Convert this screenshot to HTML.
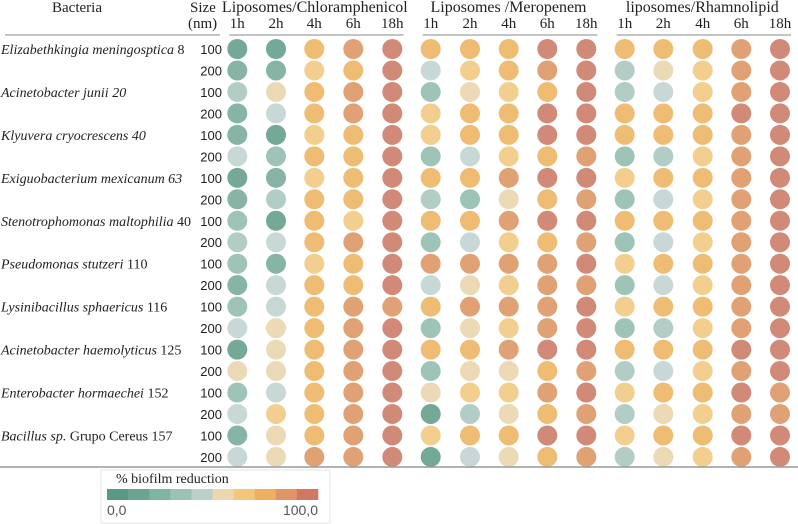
<!DOCTYPE html>
<html><head><meta charset="utf-8"><style>
body{margin:0;background:#fff;}
svg{display:block;font-family:"Liberation Serif",serif;}
</style></head><body>
<svg id="chart" width="798" height="524" viewBox="0 0 798 524" xmlns="http://www.w3.org/2000/svg">
<g id="hdr"></g><g id="cells"></g><g id="legend"></g>
</svg>
<script>
const bacteria = [["Elizabethkingia meningosptica"," 8"],["Acinetobacter junii 20",""],["Klyuvera cryocrescens 40",""],["Exiguobacterium mexicanum 63",""],["Stenotrophomonas maltophilia"," 40"],["Pseudomonas stutzeri"," 110"],["Lysinibacillus sphaericus"," 116"],["Acinetobacter haemolyticus"," 125"],["Enterobacter hormaechei"," 152"],["Bacillus sp."," Grupo Cereus 157"]];
const sizes = ["100","200"];
const groups = ["Liposomes/Chloramphenicol","Liposomes /Meropenem","liposomes/Rhamnolipid"];
const hours = ["1h","2h","4h","6h","18h"];
const G1=8,G2=18,G3=28,G4=35,G5=45,B=55,Y=65,O=75,D=85,R=95;
const chloramphenicol = [[G1,G1,O,D,R],[G2,G2,Y,O,R],[G4,B,O,D,R],[G2,G5,O,D,R],[G2,G1,Y,O,R],[G5,G3,O,O,R],[G1,G2,Y,O,R],[G2,G4,O,O,R],[G3,G1,O,Y,R],[G4,G5,O,D,R],[G3,G2,Y,O,R],[G2,G5,O,O,R],[G3,G5,O,D,D],[G5,B,O,D,R],[G1,B,O,D,R],[B,B,O,D,R],[G3,G5,O,D,R],[G5,Y,O,D,R],[G2,B,O,D,R],[G5,B,D,D,R]];
const meropenem = [[O,O,O,R,R],[G5,Y,O,D,R],[G3,B,Y,O,R],[Y,O,O,R,R],[Y,O,O,R,R],[G3,G5,Y,O,D],[O,O,D,R,R],[G4,G3,B,O,D],[O,O,D,R,R],[G3,G5,Y,O,D],[D,D,D,D,R],[G5,B,Y,D,D],[O,D,D,D,R],[G3,B,Y,D,R],[O,O,D,R,R],[G3,B,B,O,D],[B,Y,Y,D,R],[G1,G4,B,O,D],[Y,O,O,R,R],[G1,G5,B,O,D]];
const rhamnolipid = [[O,O,O,D,R],[G4,B,Y,D,R],[G4,G5,Y,D,R],[O,O,O,R,R],[O,O,O,D,R],[G3,G4,Y,D,R],[Y,O,O,D,R],[G3,G5,Y,D,R],[O,O,O,D,R],[G3,G5,Y,D,R],[Y,O,O,D,R],[G3,G5,Y,D,R],[Y,O,O,D,R],[G3,G4,Y,D,R],[O,O,O,R,R],[G4,G5,Y,D,R],[Y,O,O,R,D],[G4,B,Y,D,D],[Y,O,O,R,R],[G4,B,Y,D,R]];
const legendLabels = ["0,0","100,0"];
const series=[chloramphenicol,meropenem,rhamnolipid];
const circleColors=["#74a897","#86b4a5","#9ec4b8","#b2cdc6","#c8d8d6","#ecd9b6","#f2cf8f","#efbc74","#e0a274","#d18a78"];
const legendColors=["#5a9a84","#6aa592","#7fb3a2","#9ac2b6","#bcd0cb","#ecd7ae","#f2c77b","#efb060","#e09468","#d07860"];
const NS="http://www.w3.org/2000/svg";
function mk(tag,attrs,parent,text){const e=document.createElementNS(NS,tag);for(const k in attrs)e.setAttribute(k,attrs[k]);if(text!==undefined)e.textContent=text;parent.appendChild(e);return e;}
const colX=[[237.3,276,314.3,353.3,392.3],[430.7,470,508.7,547.3,586.3],[624.7,663.3,702.7,741.3,780]];
function yRow(i){return 49+i*21.47;}
function colorOf(v){return circleColors[Math.max(0,Math.min(9,Math.floor(v/10)))];}
const hdr=document.getElementById('hdr');
let t=mk('text',{x:77,y:12,'font-size':15,'text-anchor':'middle',fill:'#222'},hdr,'Bacteria');


t=mk('text',{x:190,y:12,'font-size':15,fill:'#222'},hdr,'Size');


t=mk('text',{x:188,y:28,'font-size':15,fill:'#222'},hdr,'(nm)');


const hl=mk('line',{x1:5,x2:220,y1:35,y2:35,stroke:'#888','stroke-width':1},hdr);


groups.forEach((g,gi)=>{
  const cx=(colX[gi][0]+colX[gi][4])/2;
  const gt=mk('text',{x:cx,y:12,'font-size':16,'text-anchor':'middle',fill:'#222'},hdr,g);
  
  
  hours.forEach((h,hi)=>{
    const ht=mk('text',{x:colX[gi][hi],y:28,'font-size':15,'text-anchor':'middle',fill:'#222'},hdr,h);
    
    
  });
  const ln=mk('line',{x1:colX[gi][0]-8,x2:colX[gi][4]+11,y1:35,y2:35,stroke:'#888','stroke-width':1},hdr);
  
  
});
bacteria.forEach((b,bi)=>{
  const y=yRow(bi*2)+5;
  const bt=mk('text',{x:1,y:y,'font-size':14,fill:'#222'},hdr);
  
  
  mk('tspan',{'font-style':'italic'},bt,b[0]);
  if(b[1])mk('tspan',{},bt,b[1]);
});
for(let r=0;r<20;r++){
  const st=mk('text',{x:222,y:yRow(r)+5,'font-size':13,'text-anchor':'end',fill:'#222','font-family':'Liberation Sans, sans-serif'},hdr,sizes[r%2]);
  
  
}
const cells=document.getElementById('cells');
series.forEach((s,gi)=>{
  s.forEach((row,ri)=>{
    row.forEach((v,hi)=>{
      const c=mk('circle',{cx:colX[gi][hi],cy:yRow(ri),r:10,fill:colorOf(v)},cells);
      
      
    });
  });
});
const bl=mk('line',{x1:0,x2:798,y1:467,y2:467,stroke:'#999','stroke-width':1.5},cells);


const lg=document.getElementById('legend');
const lb=mk('rect',{x:101,y:470,width:229,height:53,fill:'none',stroke:'#e4e4e4'},lg);


const lt=mk('text',{x:116,y:483,'font-size':14,fill:'#222'},lg,'% biofilm reduction');


const bw=(318-107)/10;
legendColors.forEach((c,i)=>{
  const rc=mk('rect',{x:107+i*bw,y:489,width:bw+0.3,height:11,fill:c},lg);
  
  
});
const l0=mk('text',{x:107,y:515,'font-size':14,fill:'#555','font-family':'Liberation Sans, sans-serif'},lg,legendLabels[0]);


const l1=mk('text',{x:318,y:515,'font-size':14,fill:'#555','text-anchor':'end','font-family':'Liberation Sans, sans-serif'},lg,legendLabels[1]);


</script>
</body></html>
